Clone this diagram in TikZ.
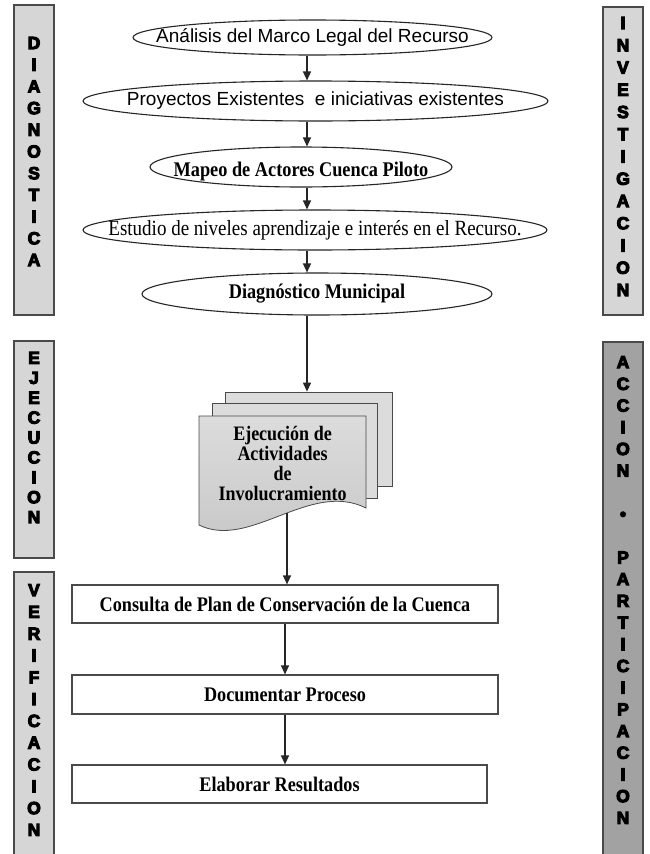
\documentclass[tikz,border=0pt]{standalone}
\usepackage{fontspec}
\usepackage{graphicx}
\setmainfont{Liberation Serif}
\newfontfamily\arialfont{Liberation Sans}
\newfontfamily\barfont[BoldFeatures={FakeBold=6}]{Liberation Sans}
\usepackage{tikz}
\usetikzlibrary{arrows.meta,shapes.geometric}
\definecolor{barraclara}{HTML}{D6D6D6}
\definecolor{barraoscura}{HTML}{A2A2A2}
\definecolor{borde}{HTML}{4A4A4A}
\definecolor{hojagris}{HTML}{DCDCDC}
\definecolor{tinta}{HTML}{262626}
\newcommand\alto[1]{\scalebox{1}[1.14]{#1}}
\tikzset{
  ovalo/.style={ellipse,draw=tinta,line width=1.1pt,inner xsep=-300pt,inner ysep=-40pt,align=center},
  ovalsans/.style={ovalo,font=\arialfont\fontsize{19}{22}\selectfont},
  ovalserif/.style={ovalo,font=\bfseries\fontsize{18.3}{21}\selectfont},
  caja/.style={rectangle,draw=borde,line width=1.2pt,font=\bfseries\fontsize{18.2}{21}\selectfont},
  barra/.style={rectangle,draw=borde,line width=1.3pt,fill=barraclara,minimum width=40pt},
  barraosc/.style={barra,fill=barraoscura},
  letras/.style={align=center,inner sep=0pt,font=\barfont\bfseries\fontsize{17.5}{#1}\selectfont},
  hoja/.style={draw=borde,line width=0.8pt,fill=hojagris},
  flecha/.style={-{Triangle[length=9pt,width=8pt]},draw=tinta,line width=1.2pt},
}

\begin{document}
\begin{tikzpicture}[x=1pt,y=-1pt]
  \path[use as bounding box,fill=white] (0,0) rectangle (650,854);
  % barras laterales
  \node[barra,minimum height=310pt] (diag) at (34,160) {};
  \node[letras=21.7] (diagtxt) at (34,151.5) {D\\I\\A\\G\\N\\O\\S\\T\\I\\C\\A};
  \node[barra,minimum height=217pt] (ejecb) at (34,449.5) {};
  \node[letras=19.9] (ejectxt) at (34,437.5) {E\\J\\E\\C\\U\\C\\I\\O\\N};
  \node[barra,minimum height=284pt] (verif) at (34,714) {};
  \node[letras=21.8] (veriftxt) at (34,710) {V\\E\\R\\I\\F\\I\\C\\A\\C\\I\\O\\N};
  \node[barra,minimum height=308pt] (inv) at (623,161) {};
  \node[letras=22.25] (invtxt) at (623,156.5) {I\\N\\V\\E\\S\\T\\I\\G\\A\\C\\I\\O\\N};
  \node[barraosc,minimum height=514pt] (accion) at (623,599) {};
  \node[letras=21.7] (acciontxt) at (623,590) {A\\C\\C\\I\\O\\N\\ \\•\\ \\P\\A\\R\\T\\I\\C\\I\\P\\A\\C\\I\\O\\N};
  % diagnostico
  \node[ovalsans,minimum width=359pt,minimum height=35pt] (e1) at (312.5,37.5) {Análisis del Marco Legal del Recurso};
  \node[ovalsans,minimum width=465pt,minimum height=40pt] (e2) at (315.5,101) {Proyectos Existentes~ e iniciativas existentes};
  \node[ovalserif,minimum width=302pt,minimum height=40pt,text height=22pt,text depth=4pt] (e3) at (301,167) {\alto{Mapeo de Actores Cuenca Piloto}};
  \node[ovalo,font=\fontsize{19}{22}\selectfont,minimum width=464pt,minimum height=40pt] (e4) at (315,230) {\alto{Estudio de niveles aprendizaje e interés en el Recurso.}};
  \node[ovalserif,minimum width=350pt,minimum height=42pt] (e5) at (317,294) {\alto{Diagnóstico Municipal}};
  % documentos
  \node[hoja,minimum width=167pt,minimum height=94pt] (hoja3) at (308.5,439) {};
  \node[hoja,minimum width=165pt,minimum height=95pt] (hoja2) at (294.5,450.5) {};
  \draw[hoja,top color=hojagris,middle color=hojagris,bottom color=black!22] (199,416) -- (366,416) -- (366,508)
    .. controls (310,480) and (250,550) .. (199,525) -- cycle;
  \node[font=\bfseries\fontsize{18}{20}\selectfont,align=center] (ejec) at (282.5,463) {\alto{Ejecución de}\\\alto{Actividades}\\\alto{de}\\\alto{Involucramiento}};
  \coordinate (ola) at (287,513);
  % verificacion
  \node[caja,minimum width=426pt,minimum height=38pt] (c1) at (285,604) {\alto{Consulta de Plan de Conservación de la Cuenca}};
  \node[caja,minimum width=426pt,minimum height=39pt] (c2) at (285,694.5) {\alto{Documentar Proceso}};
  \node[caja,minimum width=415pt,minimum height=38pt] (c3) at (279.5,784) {\alto{Elaborar Resultados}};
  % flechas
  \coordinate (eje) at (307,0);
  \draw[flecha] (e1.south -| eje) -- (e2.north -| eje);
  \draw[flecha] (e2.south -| eje) -- (e3.north -| eje);
  \draw[flecha] (e3.south -| eje) -- (e4.north -| eje);
  \draw[flecha] (e4.south -| eje) -- (e5.north -| eje);
  \draw[flecha] (e5.south -| eje) -- (hoja3.north -| eje);
  \draw[flecha] (ola) -- (ola |- c1.north);
  \draw[flecha] (c1) -- (c2);
  \draw[flecha] (c2.south) -- (c2.south |- c3.north);
\end{tikzpicture}
\end{document}
